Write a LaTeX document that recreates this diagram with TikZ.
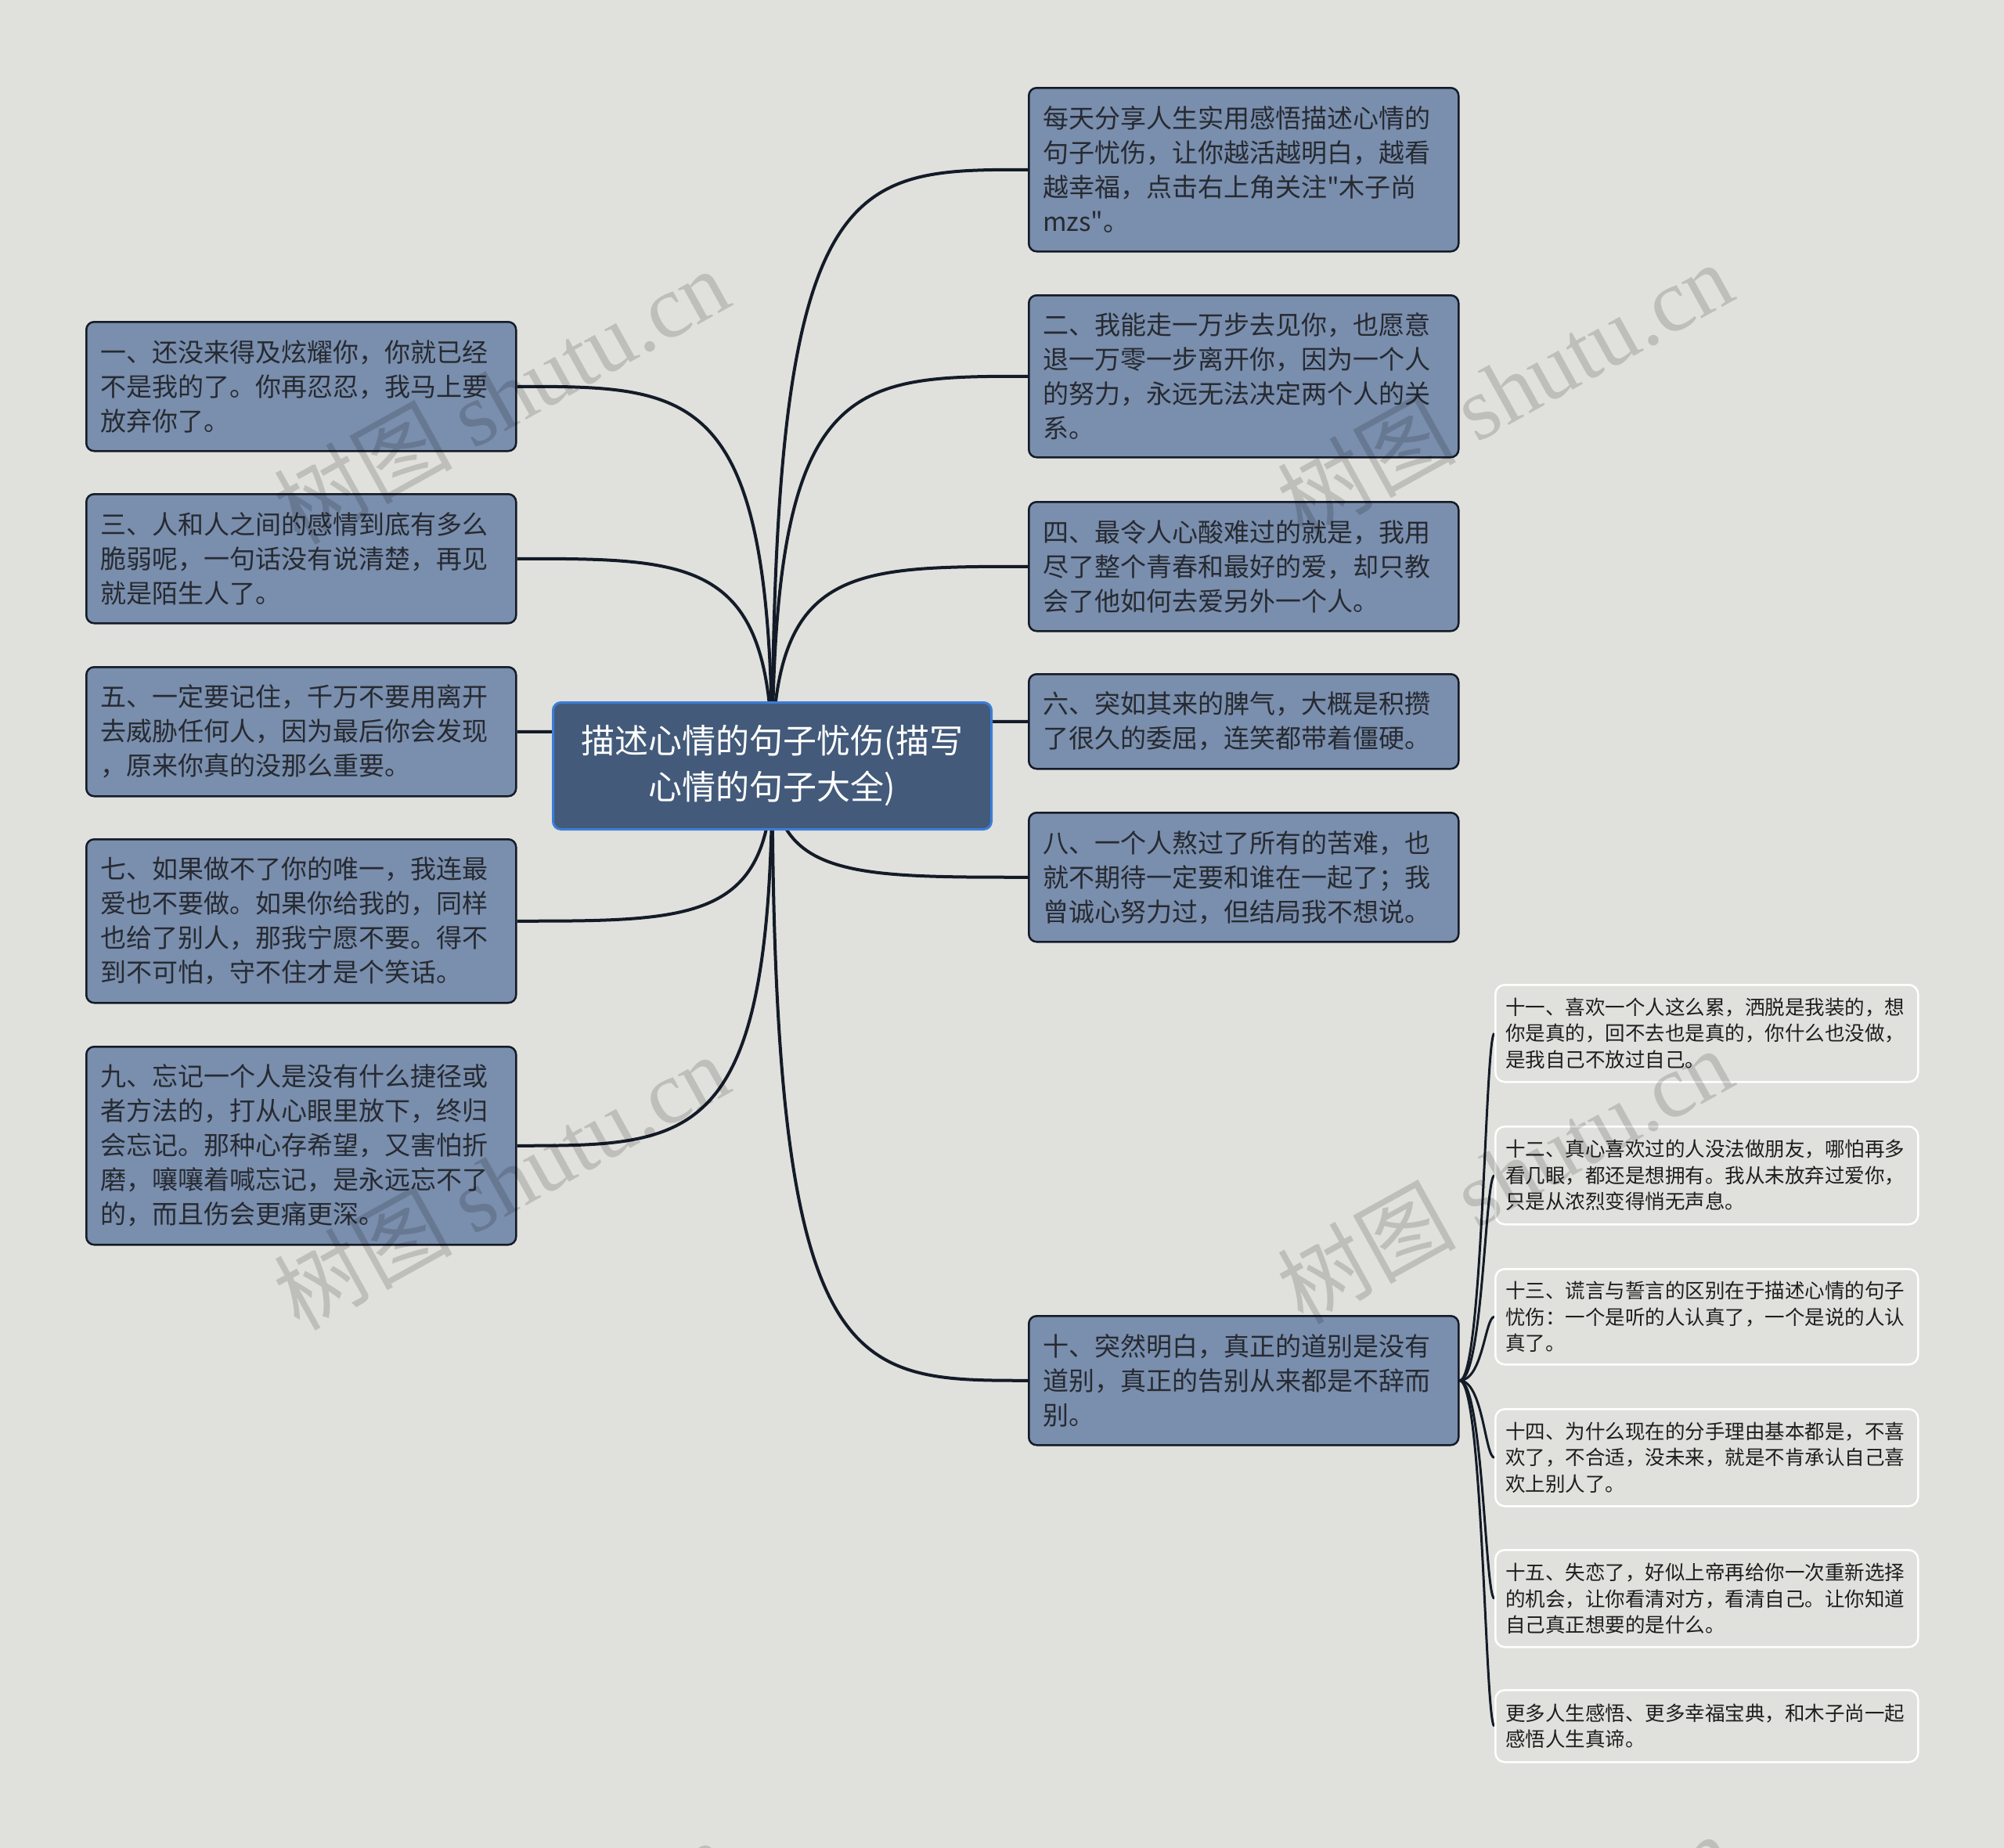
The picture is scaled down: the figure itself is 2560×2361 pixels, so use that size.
\documentclass[tikz,border=0pt]{standalone}
\usepackage{fontspec}
\setmainfont{Noto Sans CJK SC}
\newfontfamily\cjkf{Noto Sans CJK SC}
\newfontfamily\wmlat{Liberation Serif}
\usetikzlibrary{calc}
\pgfdeclarelayer{back}
\pgfdeclarelayer{edges}
\pgfdeclarelayer{front}
\pgfsetlayers{back,edges,main,front}
\definecolor{bgc}{HTML}{E0E1DC}
\definecolor{nodec}{HTML}{7A8EAD}
\definecolor{edgec}{HTML}{141B28}
\definecolor{centc}{HTML}{435A7A}
\definecolor{centb}{HTML}{3C7DD8}
\definecolor{txt}{HTML}{262A31}
\definecolor{leaftxt}{HTML}{1E1E1E}
\begin{document}
\begin{tikzpicture}[x=1pt,y=-1pt,
  topic/.style={draw=edgec, line width=2.5pt, fill=nodec, rounded corners=10pt,
    text width=513pt, inner xsep=18pt, inner ysep=0pt, align=left, text=txt,
    anchor=north west, font=\cjkf\fontsize{33}{44}\selectfont},
  leaf/.style={draw=white, line width=2.5pt, rounded corners=12pt,
    text width=514pt, inner xsep=13pt, inner ysep=0pt, align=left, text=leaftxt,
    anchor=north west, font=\cjkf\fontsize{25.5}{33.5}\selectfont},
  central/.style={draw=centb, line width=3pt, fill=centc, rounded corners=10pt,
    text width=540pt, inner xsep=10pt, inner ysep=0pt, align=center, text=white,
    anchor=north west, minimum height=162pt, font=\cjkf\fontsize{43}{59}\selectfont},
  conn/.style={draw=edgec, line width=4pt},
  wm/.style={text=black, opacity=0.15, font=\cjkf\fontsize{114}{120}\selectfont}]
\begin{pgfonlayer}{back}
\fill[bgc] (0,0) rectangle (2560,2361);
\end{pgfonlayer}
\useasboundingbox (0,0) rectangle (2560,2361);

% central
\node[central] (c) at (705,896) {描述心情的句子忧伤(描写\\心情的句子大全)};

% right topics
\node[topic, minimum height=209pt] (r0) at (1313,111) {每天分享人生实用感悟描述心情的\\句子忧伤，让你越活越明白，越看\\越幸福，点击右上角关注"木子尚\\mzs"。};
\node[topic, minimum height=207pt] (r2) at (1313,376) {二、我能走一万步去见你，也愿意\\退一万零一步离开你，因为一个人\\的努力，永远无法决定两个人的关\\系。};
\node[topic, minimum height=165pt] (r4) at (1313,640) {四、最令人心酸难过的就是，我用\\尽了整个青春和最好的爱，却只教\\会了他如何去爱另外一个人。};
\node[topic, minimum height=121pt] (r6) at (1313,860) {六、突如其来的脾气，大概是积攒\\了很久的委屈，连笑都带着僵硬。};
\node[topic, minimum height=165pt] (r8) at (1313,1037) {八、一个人熬过了所有的苦难，也\\就不期待一定要和谁在一起了；我\\曾诚心努力过，但结局我不想说。};
\node[topic, minimum height=165pt] (r10) at (1313,1680) {十、突然明白，真正的道别是没有\\道别，真正的告别从来都是不辞而\\别。};

% left topics
\node[topic, minimum height=165pt] (l1) at (109,410) {一、还没来得及炫耀你，你就已经\\不是我的了。你再忍忍，我马上要\\放弃你了。};
\node[topic, minimum height=165pt] (l3) at (109,630) {三、人和人之间的感情到底有多么\\脆弱呢，一句话没有说清楚，再见\\就是陌生人了。};
\node[topic, minimum height=165pt] (l5) at (109,851) {五、一定要记住，千万不要用离开\\去威胁任何人，因为最后你会发现\\，原来你真的没那么重要。};
\node[topic, minimum height=209pt] (l7) at (109,1071) {七、如果做不了你的唯一，我连最\\爱也不要做。如果你给我的，同样\\也给了别人，那我宁愿不要。得不\\到不可怕，守不住才是个笑话。};
\node[topic, minimum height=253pt] (l9) at (109,1336) {九、忘记一个人是没有什么捷径或\\者方法的，打从心眼里放下，终归\\会忘记。那种心存希望，又害怕折\\磨，嚷嚷着喊忘记，是永远忘不了\\的，而且伤会更痛更深。};

% leaves
\node[leaf, minimum height=124pt] (f11) at (1909,1257) {十一、喜欢一个人这么累，洒脱是我装的，想\\你是真的，回不去也是真的，你什么也没做，\\是我自己不放过自己。};
\node[leaf, minimum height=125pt] (f12) at (1909,1438) {十二、真心喜欢过的人没法做朋友，哪怕再多\\看几眼，都还是想拥有。我从未放弃过爱你，\\只是从浓烈变得悄无声息。};
\node[leaf, minimum height=122pt] (f13) at (1909,1620) {十三、谎言与誓言的区别在于描述心情的句子\\忧伤：一个是听的人认真了，一个是说的人认\\真了。};
\node[leaf, minimum height=124pt] (f14) at (1909,1799) {十四、为什么现在的分手理由基本都是，不喜\\欢了，不合适，没未来，就是不肯承认自己喜\\欢上别人了。};
\node[leaf, minimum height=124pt] (f15) at (1909,1979) {十五、失恋了，好似上帝再给你一次重新选择\\的机会，让你看清对方，看清自己。让你知道\\自己真正想要的是什么。};
\node[leaf, minimum height=92pt] (f16) at (1909,2158) {更多人生感悟、更多幸福宝典，和木子尚一起\\感悟人生真谛。};

\begin{pgfonlayer}{edges}
\foreach \n in {l1,l3,l5,l7,l9}{
  \draw[conn] (c.center) .. controls (c.center |- \n.east) and ($(c.center |- \n.east)!0.3!(\n.east)$) .. (\n.east);
}
\foreach \n in {r0,r2,r4,r6,r8,r10}{
  \draw[conn] (c.center) .. controls (c.center |- \n.west) and ($(c.center |- \n.west)!0.3!(\n.west)$) .. (\n.west);
}
\foreach \n in {f11,f12,f13,f14,f15,f16}{
  \draw[conn, line width=3pt] (r10.east) .. controls ($(r10.east)+(30,0)$) and ($(\n.west)+(-12,0)$) .. (\n.west);
}
\end{pgfonlayer}

\begin{pgfonlayer}{front}
\node[wm, rotate=29] (w1) at (640,505) {树图 {\wmlat shutu.cn}};
\node[wm, rotate=29] (w2) at (1922,497) {树图 {\wmlat shutu.cn}};
\node[wm, rotate=29] (w3) at (640,1509) {树图 {\wmlat shutu.cn}};
\node[wm, rotate=29] (w4) at (1922,1501) {树图 {\wmlat shutu.cn}};
\begin{scope}
\clip (0,0) rectangle (2560,2361);
\node[wm, rotate=29] (w5) at (640,2513) {树图 {\wmlat shutu.cn}};
\node[wm, rotate=29] (w6) at (1922,2505) {树图 {\wmlat shutu.cn}};
\end{scope}
\end{pgfonlayer}
\end{tikzpicture}
\end{document}
